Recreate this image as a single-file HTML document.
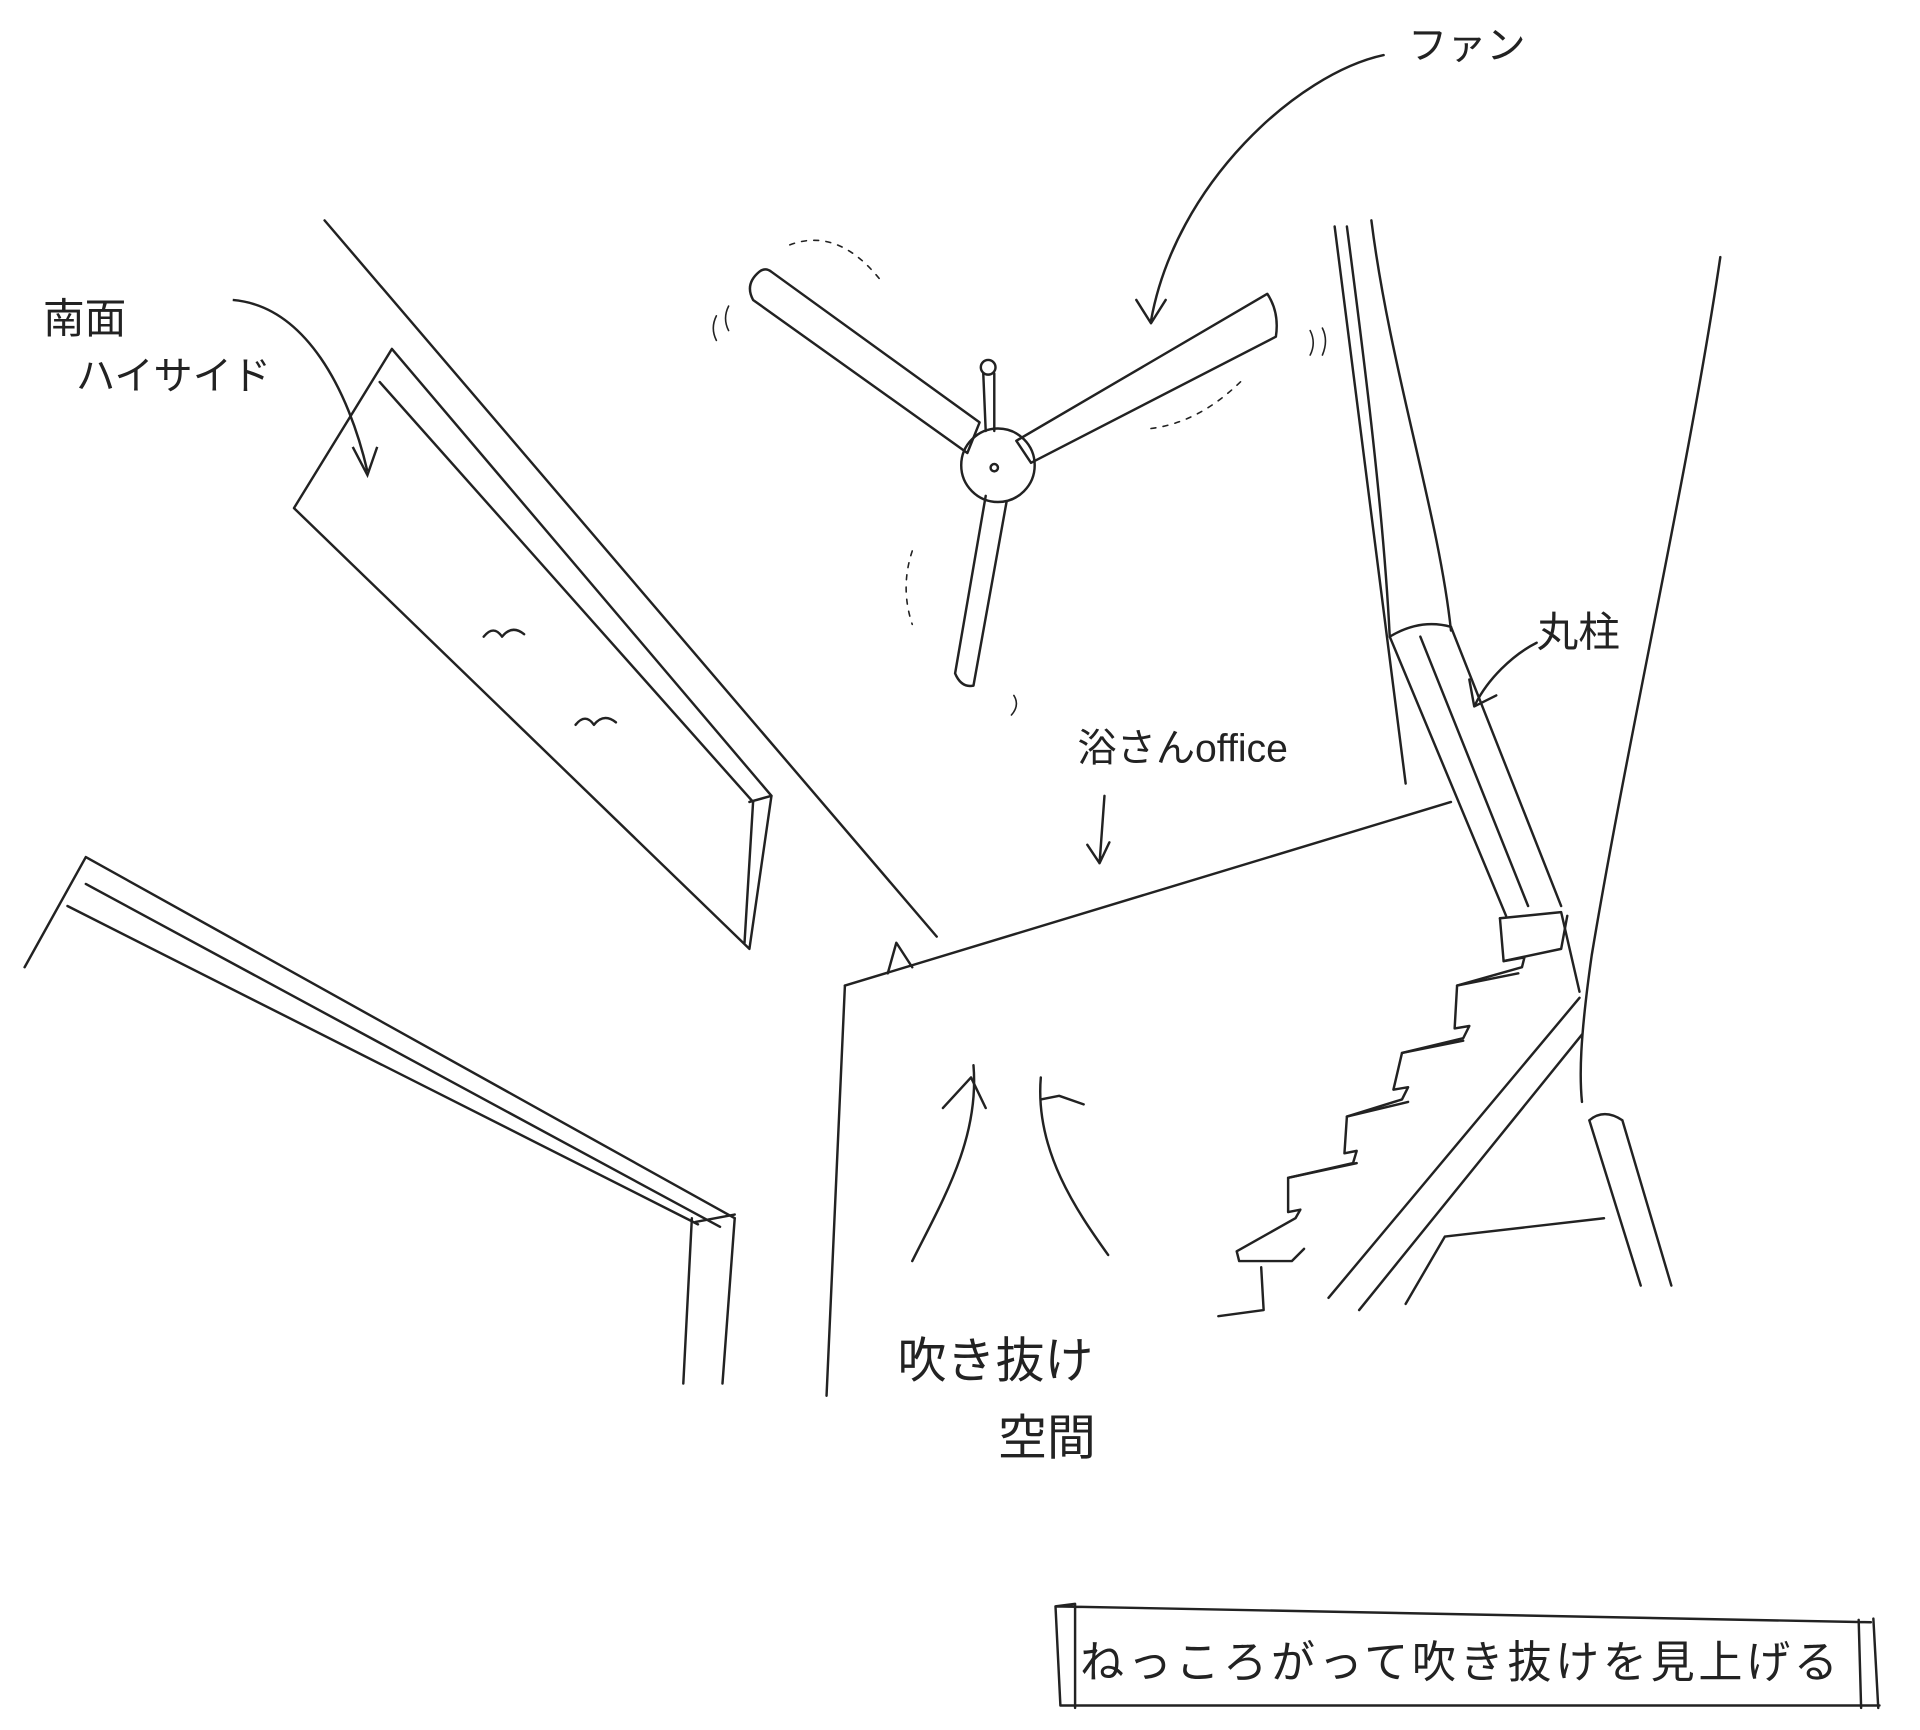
<!DOCTYPE html>
<html><head><meta charset="utf-8"><style>
html,body{margin:0;padding:0;background:#fff;}
svg{display:block}
text{font-family:"Liberation Sans","Noto Sans CJK JP",sans-serif;fill:#222;}
</style></head><body>
<svg width="1920" height="1730" viewBox="0 0 1568 1413" xmlns="http://www.w3.org/2000/svg">
<g fill="none" stroke="#222" stroke-width="2" stroke-linecap="round" stroke-linejoin="round">
<path d="M265 180 L765 765"/>
<path d="M320 285 L240 415 L612 775 L630 650 L320 285"/>
<path d="M310 312 L615 655"/>
<path d="M612 655 L630 650 M615 655 L608 770"/>
<path d="M395 520 q8 -10 15 0 q8 -10 18 -2"/>
<path d="M470 592 q8 -10 15 0 q8 -10 18 -2"/>
<path d="M20 790 L70 700 L600 995"/>
<path d="M55 740 L570 1000"/>
<path d="M70 722 L588 1002"/>
<path d="M565 995 L558 1130 M600 995 L590 1130 M568 998 L600 992"/>
<path d="M690 805 L675 1140"/>
<path d="M690 805 L1185 655"/>
<path d="M725 795 L732 770 L745 790"/>
<path d="M745 1030 C770 980 800 930 795 870"/>
<path d="M770 905 L793 880 L805 905"/>
<path d="M905 1025 C880 990 845 940 850 880"/>
<path d="M850 898 L865 895 L885 902"/>
<path d="M902 650 L898 705 M888 690 L898 705 L906 688"/>
<path d="M620 222 Q608 232 615 245 L790 370 L800 345 L630 222 Q625 218 620 222 Z"/>
<path d="M830 360 L1035 240 Q1045 255 1042 275 L842 378 Z"/>
<path d="M805 405 L780 550 Q785 562 795 560 L822 410"/>
<circle cx="815" cy="380" r="30"/>
<path d="M803 305 L805 352 M812 305 L812 352"/>
<circle cx="807" cy="300" r="6"/>
<circle cx="812" cy="382" r="3"/>
<path d="M585 258 q-5 10 0 20 M595 250 q-5 10 0 20 M1070 270 q5 10 0 20 M1080 268 q5 10 0 22 M828 568 q5 8 -2 16" stroke-width="1.3"/>
<path d="M645 200 q40 -15 75 30 M745 450 q-10 30 0 60 M940 350 q40 -5 75 -40" stroke-dasharray="4 6" stroke-width="1.3"/>
<path d="M1130 45 C1060 60 960 150 940 262 M928 245 L940 264 L952 245"/>
<path d="M1090 185 L1148 640"/>
<path d="M1100 185 C1115 300 1130 420 1135 520"/>
<path d="M1120 180 C1135 300 1175 420 1185 515"/>
<path d="M1135 520 L1230 748 M1160 520 L1248 740 M1185 512 L1275 740"/>
<path d="M1135 520 Q1160 505 1185 512"/>
<path d="M1405 210 C1380 380 1330 600 1300 780 C1290 850 1290 880 1292 900"/>
<path d="M1255 525 C1235 535 1215 555 1205 575 M1200 555 L1204 577 L1222 568"/>
<path d="M1225 750 L1275 745 L1290 810"/>
<path d="M1225 750 L1228 785 L1245 782 L1243 790 L1190 805 L1188 840 L1200 838 L1195 848 L1145 860 L1138 890 L1150 888 L1145 898 L1100 912 L1098 942 L1108 940 L1105 950 L1052 962 L1052 990 L1062 988 L1058 995 L1010 1022 L1012 1030 L1055 1030 L1065 1020"/>
<path d="M1228 785 L1275 775 L1280 748 M1190 805 L1240 795 M1145 860 L1195 850 M1100 912 L1150 900 M1052 962 L1108 950"/>
<path d="M1030 1035 L1032 1070 L995 1075"/>
<path d="M1290 815 L1085 1060 M1292 845 L1110 1070"/>
<path d="M1148 1065 L1180 1010 L1310 995"/>
<path d="M1298 915 Q1310 905 1325 915 L1365 1050 M1298 915 L1340 1050"/>
<path d="M862 1312 L1528 1325 M862 1312 L866 1393 M862 1312 L878 1310 L878 1395 M1518 1323 L1520 1395 M1530 1322 L1534 1395 M866 1393 L1535 1393"/>
</g>
<text x="35" y="272" font-size="34">南面</text>
<text x="62" y="318" font-size="32">ハイサイド</text>
<path d="M190 245 C250 250 285 320 300 385 M288 365 L300 388 L308 365" fill="none" stroke="#222" stroke-width="2"/>
<text x="1150" y="48" font-size="32">ファン</text>
<text x="880" y="622" font-size="32">浴さんoffice</text>
<text x="1255" y="528" font-size="34">丸柱</text>
<text x="733" y="1125" font-size="40">吹き抜け</text>
<text x="815" y="1188" font-size="40">空間</text>
<text x="882" y="1370" font-size="36" letter-spacing="3">ねっころがって吹き抜けを見上げる</text>
</svg>
</body></html>
